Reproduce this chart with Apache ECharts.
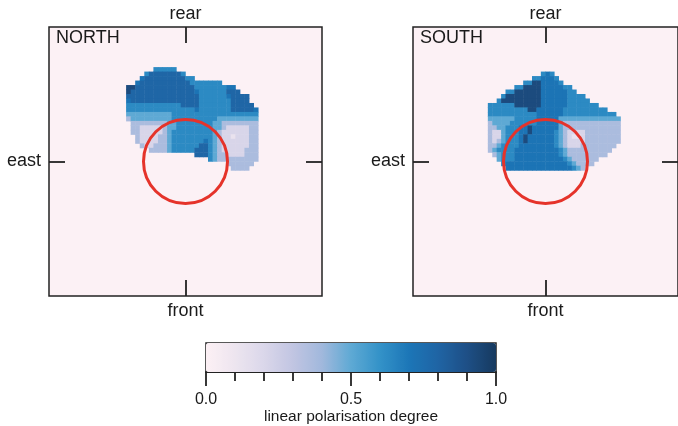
<!DOCTYPE html>
<html>
<head>
<meta charset="utf-8">
<script src="https://cdn.jsdelivr.net/npm/echarts@6/dist/echarts.min.js"></script>
<style>
  html, body { margin: 0; padding: 0; background: #fff; }
  #chart { width: 678px; height: 426px; }
</style>
</head>
<body>
<div id="chart"></div>
<script>
// polarisation degree of each contour code 0..9
const levelValues = [0, 0.12, 0.21, 0.37, 0.44, 0.5, 0.63, 0.71, 0.79, 0.92];

// [row, first column, contour codes] on a 60 x 60 cell map, row 0 at the rear
const northRows = [
  [9, 23, "66666"],
  [10, 21, "688888886"],
  [11, 20, "788888888866"],
  [12, 19, "7888888888886666666"],
  [13, 17, "998888888888888666666677"],
  [14, 17, "9888888888888887666666888"],
  [15, 17, "888888888888888866666678888"],
  [16, 17, "788888888888888866666668888"],
  [17, 17, "6666666666668888666666688888"],
  [18, 17, "66666666666666676666666888887"],
  [19, 17, "55555555556666666666666666666"],
  [20, 17, "35555555556666666666555555555"],
  [21, 18, "3333333355666666665533333333"],
  [22, 18, "3322222355666666665532222233"],
  [23, 18, "3322222356666666665322222233"],
  [24, 19, "322223356666666665322122233"],
  [25, 19, "322223356666666765322222233"],
  [26, 20, "32233356666668865322222233"],
  [27, 22, "333356666688865322222333"],
  [28, 32, "88865332222333"],
  [29, 35, "65333333333"],
  [30, 39, "333333"],
  [31, 40, "3333"]
];

const southRows = [
  [10, 29, "676"],
  [11, 27, "667776"],
  [12, 25, "669977776"],
  [13, 23, "6699997777766"],
  [14, 21, "6699999977777766"],
  [15, 20, "6999999997777776666"],
  [16, 19, "699999999977777766666"],
  [17, 17, "6666669999997777776666666"],
  [18, 17, "666666666997777776666666666"],
  [19, 17, "66666666666777777666666666666"],
  [20, 17, "555555666667777755555555555555"],
  [21, 17, "355556666667777753333333333333"],
  [22, 17, "335566677977777753333333333333"],
  [23, 17, "322566677977777653222233333333"],
  [24, 17, "322566679777777653211233333333"],
  [25, 17, "323566679777777653222233333333"],
  [26, 17, "33566667777777765322233333333"],
  [27, 17, "3566667777777777653333333333"],
  [28, 18, "35666777777777765333333333"],
  [29, 19, "56667777777777765333333"],
  [30, 20, "677777777777777653333"],
  [31, 21, "777777777777777653"]
];

const panelNames = ["NORTH", "SOUTH"];
const circleCentre = [0, 0];
const colourStops = ["#fcf0f4", "#ede5ef", "#dad7ea", "#c1c5e2", "#a1b8dc", "#5ea9d4",
  "#3392c8", "#1c76b7", "#1f64a4", "#1e4f86", "#163a5f"];

const font = '"Liberation Sans", Arial, Helvetica, sans-serif';
const ink = "#1a1a1a";
const cellIndex = Array.from({ length: 60 }, (_, i) => i);

function toCells(rows) {
  const out = [];
  rows.forEach(([r, c0, codes]) => {
    for (let k = 0; k < codes.length; k++) {
      out.push([c0 + k, r, levelValues[Number(codes[k])]]);
    }
  });
  return out;
}

const panelLeft = [49, 413];
const nameStyle = { fontSize: 18, fontFamily: font, color: ink };
const tickStyle = { color: "#222", width: 1.8 };

const grids = [];
const xAxes = [];
const yAxes = [];
const series = [];
const titles = [];

panelLeft.forEach((left, i) => {
  grids.push({
    left: left, top: 24, width: 273, height: 272, show: true,
    backgroundColor: "#fcf1f5", borderColor: "#222", borderWidth: 1.5
  });
  // hidden category axes that carry the cells
  xAxes.push({ type: "category", gridIndex: i, data: cellIndex, show: false });
  yAxes.push({ type: "category", gridIndex: i, data: cellIndex, show: false, inverse: true });
  const frameAxis = (extra) => Object.assign({
    type: "value", gridIndex: i, min: -30, max: 30,
    axisLine: { show: false, onZero: false },
    axisTick: { show: true, inside: true, length: 16, customValues: [0], lineStyle: tickStyle },
    axisLabel: { show: false },
    splitLine: { show: false },
    nameLocation: "middle",
    nameTextStyle: nameStyle
  }, extra);
  xAxes.push(frameAxis({ position: "bottom", name: "front", nameGap: 6 }));
  xAxes.push(frameAxis({ position: "top", name: "rear", nameGap: 4 }));
  yAxes.push(frameAxis({ position: "left", name: "east", nameGap: 8, nameRotate: 0 }));
  yAxes.push(frameAxis({ position: "right" }));
  titles.push({
    text: panelNames[i], left: left + 7, top: 29, padding: 0,
    textStyle: { fontSize: 18, fontWeight: "normal", fontFamily: font, color: ink }
  });
});

// colour bar frame and ticks
grids.push({
  left: 206, top: 343, width: 290, height: 29, show: true,
  backgroundColor: "transparent", borderColor: "#222", borderWidth: 1.5
});
xAxes.push({
  type: "value", gridIndex: 2, min: 0, max: 1, interval: 0.5,
  axisLine: { show: true, onZero: false, lineStyle: tickStyle },
  axisTick: { show: true, length: 14, lineStyle: tickStyle },
  minorTick: { show: true, splitNumber: 5, length: 9, lineStyle: tickStyle },
  axisLabel: { fontSize: 16, fontFamily: font, color: ink, margin: 20, formatter: (v) => v.toFixed(1) },
  splitLine: { show: false },
  name: "linear polarisation degree", nameLocation: "middle", nameGap: 34,
  nameTextStyle: { fontSize: 15.5, fontFamily: font, color: ink }
});
yAxes.push({ type: "value", gridIndex: 2, show: false });

[northRows, southRows].forEach((rows, i) => {
  series.push({
    type: "heatmap", xAxisIndex: 3 * i, yAxisIndex: 3 * i,
    data: toCells(rows), silent: true, emphasis: { disabled: true }
  });
});
[0, 1].forEach((i) => {
  series.push({
    type: "scatter", xAxisIndex: 3 * i + 1, yAxisIndex: 3 * i + 1,
    data: [circleCentre], symbolSize: 84, silent: true, z: 5,
    itemStyle: { color: "rgba(0,0,0,0)", borderColor: "#e5332a", borderWidth: 3, opacity: 1 }
  });
});

const chart = echarts.init(document.getElementById("chart"), null, { renderer: "canvas" });
chart.setOption({
  animation: false,
  backgroundColor: "#ffffff",
  title: titles,
  grid: grids,
  xAxis: xAxes,
  yAxis: yAxes,
  visualMap: {
    type: "continuous", min: 0, max: 1, orient: "horizontal",
    left: 206, top: 343, itemWidth: 29, itemHeight: 290, padding: 0,
    calculable: false, hoverLink: false, seriesIndex: [0, 1],
    inRange: { color: colourStops }
  },
  series: series
});
</script>
</body>
</html>
